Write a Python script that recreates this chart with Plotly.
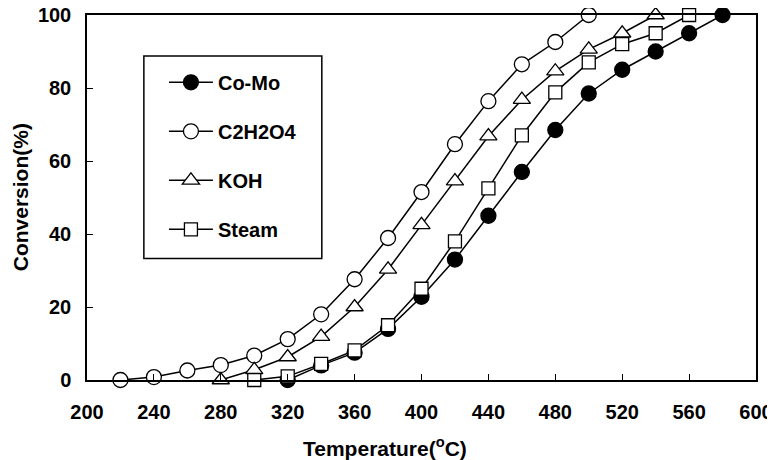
import plotly.graph_objects as go

como_t = [320, 340, 360, 380, 400, 420, 440, 460, 480, 500, 520, 540, 560, 580]
como_v = [0, 4, 7.5, 14, 22.8, 33, 45, 57, 68.5, 78.5, 85, 90, 95, 100]

c2_t = [220, 240, 260, 280, 300, 320, 340, 360, 380, 400, 420, 440, 460, 480, 500]
c2_v = [0, 0.8, 2.6, 4.1, 6.7, 11.2, 18, 27.6, 38.9, 51.5, 64.6, 76.4, 86.5, 92.6, 100]

koh_t = [280, 300, 320, 340, 360, 380, 400, 420, 440, 460, 480, 500, 520, 540]
koh_v = [0, 2.8, 6.3, 11.9, 20, 30.3, 42.5, 54.5, 66.8, 76.8, 84.6, 90.6, 95, 100]

steam_t = [300, 320, 340, 360, 380, 400, 420, 440, 460, 480, 500, 520, 540, 560]
steam_v = [0, 1, 4.4, 8.1, 15, 25, 38, 52.5, 67, 78.8, 87, 92, 95, 100]

x_ticks = [200, 240, 280, 320, 360, 400, 440, 480, 520, 560, 600]
y_ticks = [0, 20, 40, 60, 80, 100]

FONT = "Liberation Sans, Arial, sans-serif"

fig = go.Figure()
series = [
    ("Co-Mo", como_t, como_v, "circle", "black", 15),
    ("C2H2O4", c2_t, c2_v, "circle", "white", 15),
    ("KOH", koh_t, koh_v, "triangle-up", "white", 15),
    ("Steam", steam_t, steam_v, "square", "white", 13),
]
for i, (name, xs, ys, sym, fill, sz) in enumerate(series):
    fig.add_trace(go.Scatter(
        x=xs, y=ys, name=name, mode="lines+markers",
        line=dict(color="black", width=1.5),
        marker=dict(symbol=sym, size=sz, color=fill,
                    line=dict(color="black", width=1.3)),
        legendgroup=str(i), cliponaxis=False,
    ))

# legend frame
fig.add_shape(type="rect", xref="paper", yref="paper",
              x0=0.085, x1=0.351, y0=0.333, y1=0.888,
              line=dict(color="black", width=1.5), fillcolor="white", layer="below")

fig.add_annotation(text="Temperature(<sup>o</sup>C)", xref="paper", yref="paper",
                   x=0.445, y=-0.183, xanchor="center", yanchor="middle",
                   showarrow=False, font=dict(size=21, family=FONT, weight="bold"))
fig.add_annotation(text="Conversion(%)", xref="paper", yref="paper",
                   x=-0.099, y=0.5, xanchor="center", yanchor="middle", textangle=-90,
                   showarrow=False, font=dict(size=21, family=FONT, weight="bold"))

# page body has an 8px margin: figure is sized so the plot sits where the reference has it
fig.update_layout(
    width=767, height=452,
    margin=dict(l=79, r=19, t=7, b=80, autoexpand=False),
    paper_bgcolor="white", plot_bgcolor="white",
    font=dict(family=FONT, size=20, color="black"),
    showlegend=True,
    legend=dict(
        x=0.115, y=0.869, xanchor="left", yanchor="top",
        borderwidth=0, bgcolor="rgba(0,0,0,0)",
        font=dict(size=20, family=FONT, weight="bold"),
        tracegroupgap=20, itemwidth=44,
    ),
    xaxis=dict(
        range=[200, 600], tickvals=x_ticks, automargin=False,
        ticks="inside", ticklen=6, tickcolor="black", tickwidth=1.2,
        showline=True, linecolor="black", linewidth=1.5, mirror=True,
        showgrid=False, zeroline=False, ticklabelstandoff=13,
        ticklabeloverflow="allow",
        tickfont=dict(size=20, family=FONT, weight="bold"),
    ),
    yaxis=dict(
        range=[0, 100], tickvals=y_ticks, automargin=False,
        ticks="inside", ticklen=6, tickcolor="black", tickwidth=1.2,
        showline=True, linecolor="black", linewidth=1.5, mirror=True,
        showgrid=False, zeroline=False, ticklabelstandoff=10,
        ticklabeloverflow="allow",
        tickfont=dict(size=20, family=FONT, weight="bold"),
    ),
)

fig.write_html("out.html")
